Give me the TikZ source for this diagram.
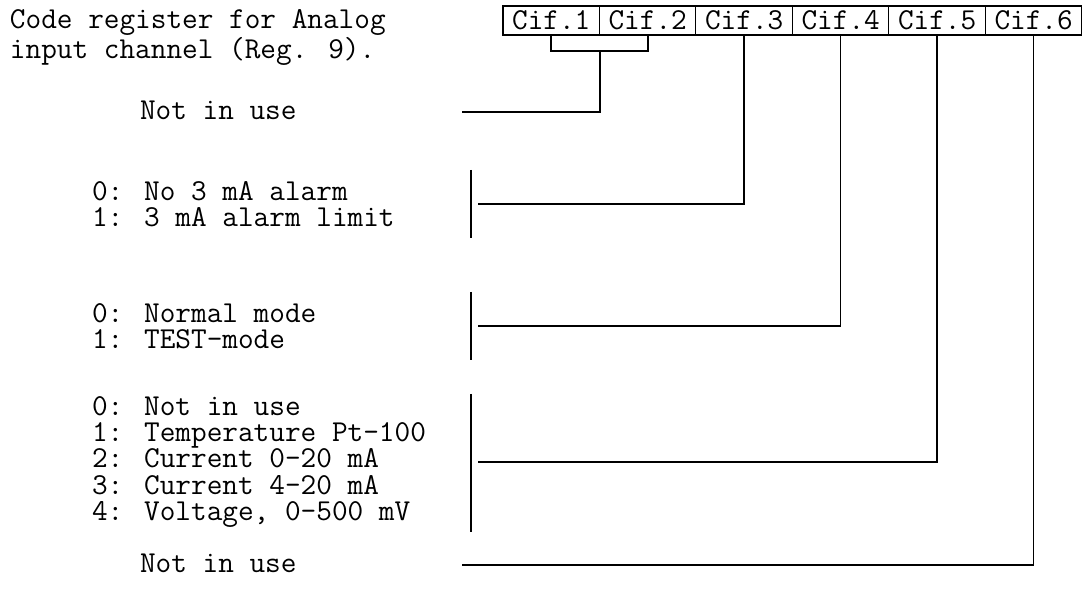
\documentclass[tikz,border=0pt]{standalone}
\usepackage{fontspec}
\usepackage{tikz}
\usetikzlibrary{positioning, calc}

\begin{document}
\begin{tikzpicture}[x=0.02cm, y=-0.02cm,
        every node/.style={align=left, inner sep=0pt, outer sep=0pt,
            font=\fontsize{17.3}{15}\selectfont\ttfamily},
        cif/.style={draw, line width=0.6pt, minimum width=1.93cm, minimum height=0.58cm},
        wire/.style={line width=0.9pt},
        bar/.style={line width=0.9pt}]

        \useasboundingbox (0,0) rectangle (1086,611);

        % title
        \node[anchor=north west] (title) at (10, 10)
            {Code register for Analog\\input channel (Reg. 9).};

        % register boxes
        \node[cif, anchor=north west] (cif1) at (503, 6) {Cif.1};
        \node[cif, right=0pt of cif1] (cif2) {Cif.2};
        \node[cif, right=0pt of cif2] (cif3) {Cif.3};
        \node[cif, right=0pt of cif3] (cif4) {Cif.4};
        \node[cif, right=0pt of cif4] (cif5) {Cif.5};
        \node[cif, right=0pt of cif5] (cif6) {Cif.6};

        % descriptions
        \node[anchor=west] (nu1)   at (140, 110) {Not in use};
        \node[anchor=west] (alarm) at (92, 204)
            {0: No 3 mA alarm\\1: 3 mA alarm limit};
        \node[anchor=west] (mode)  at (92, 326)
            {0: Normal mode\\1: TEST-mode};
        \node[anchor=west] (input) at (92, 462)
            {0: Not in use\\1: Temperature Pt-100\\2: Current 0-20 mA\\
             3: Current 4-20 mA\\4: Voltage, 0-500 mV};
        \node[anchor=west] (nu2)   at (140, 563) {Not in use};

        % bars beside the groups
        \draw[bar] (471, 170) -- (471, 238);
        \draw[bar] (471, 292) -- (471, 360);
        \draw[bar] (471, 394) -- (471, 532);

        % line ends
        \coordinate (brk)     at (600, 51);
        \coordinate (nu1-e)   at (462, 112);
        \coordinate (alarm-e) at (478, 204);
        \coordinate (mode-e)  at (478, 326);
        \coordinate (input-e) at (478, 462);
        \coordinate (nu2-e)   at (462, 565);

        % connectors
        \draw[wire] (cif1.south) |- (brk) -| (cif2.south);
        \draw[wire] (nu1-e) -| (brk);
        \draw[wire] (alarm-e) -| (cif3.south);
        \draw[wire] (mode-e)  -| (cif4.south);
        \draw[wire] (input-e) -| (cif5.south);
        \draw[wire] (nu2-e)   -| (cif6.south);
    \end{tikzpicture}
\end{document}
